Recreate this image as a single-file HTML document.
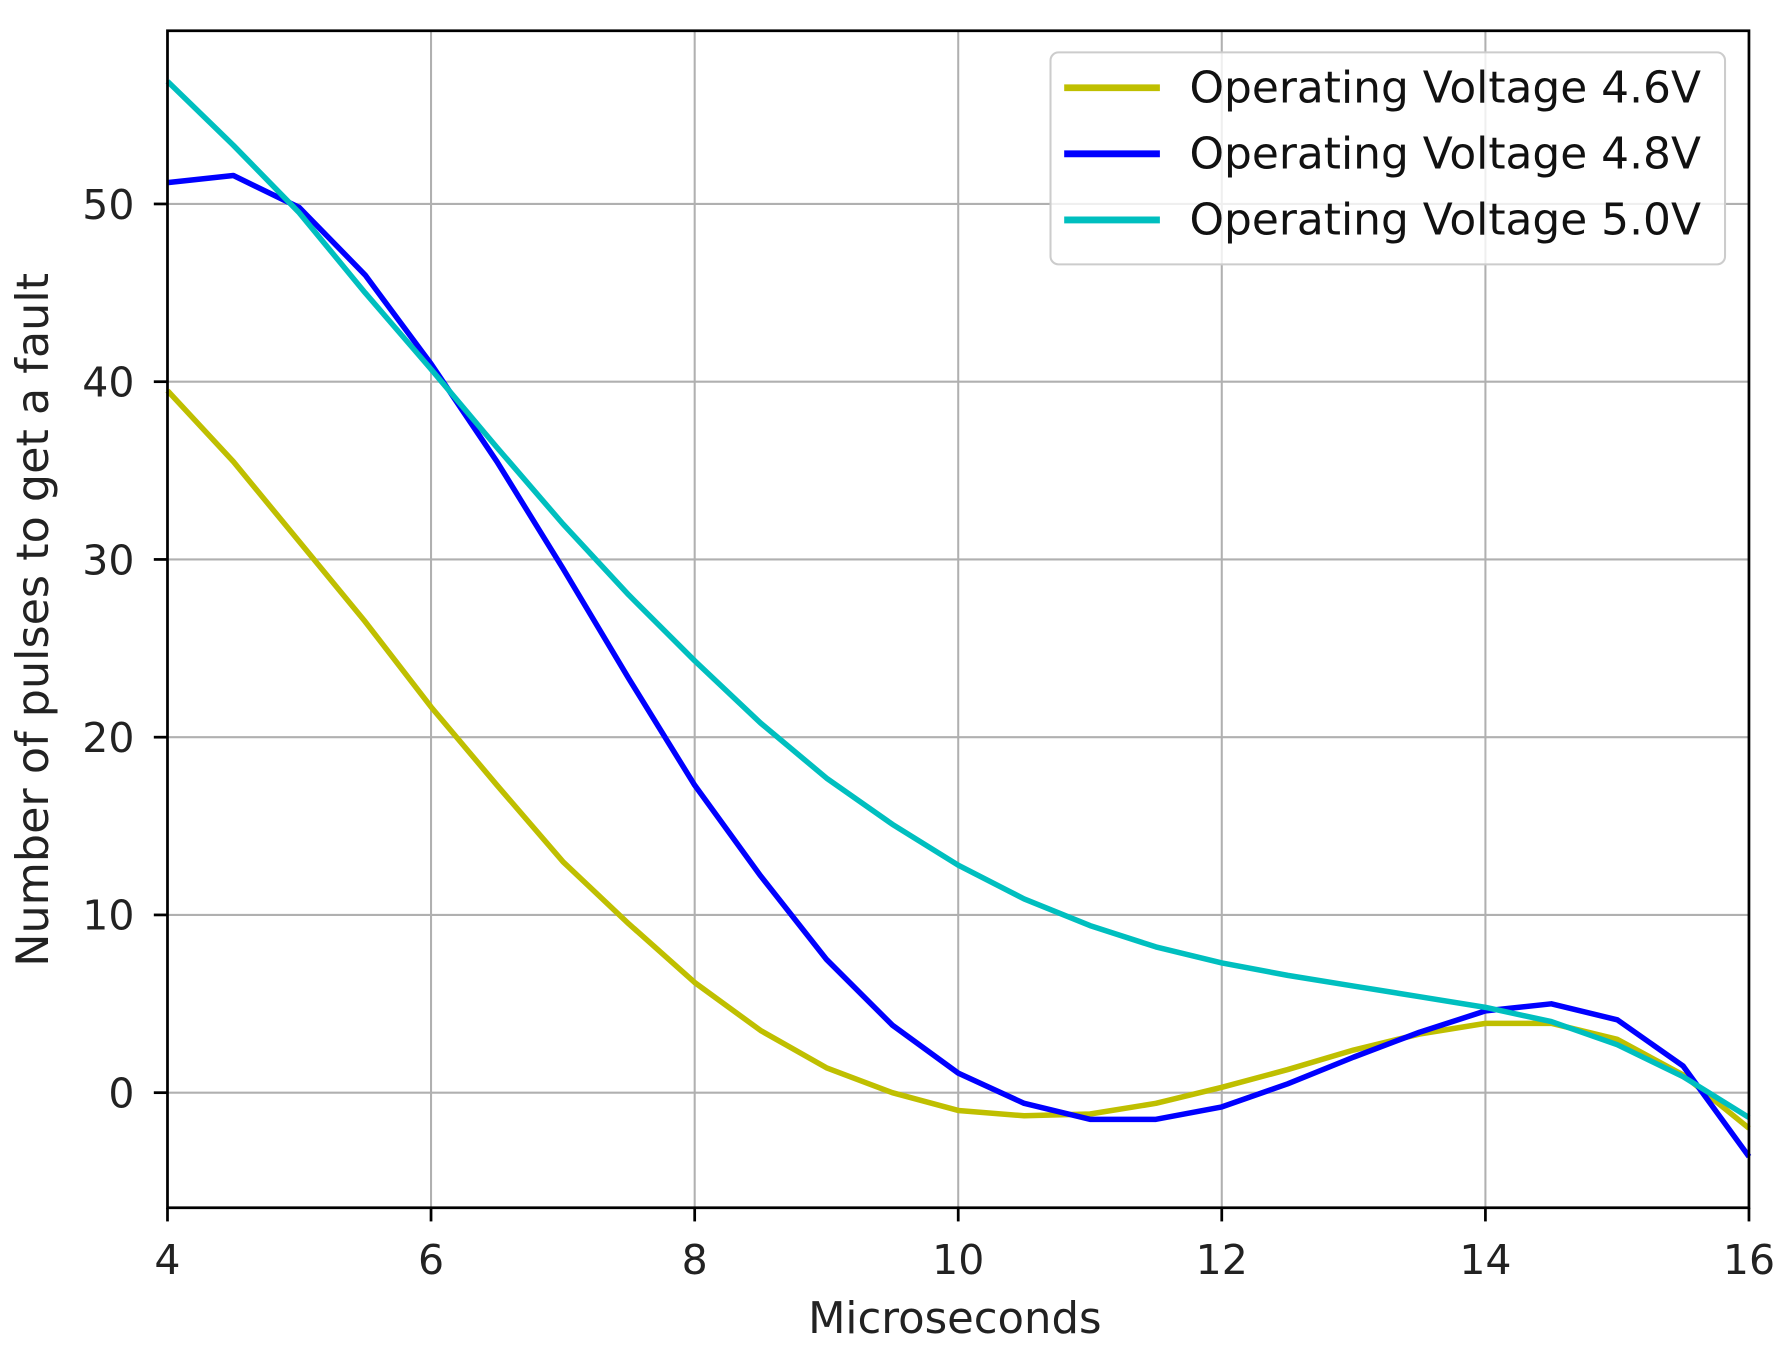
<!DOCTYPE html>
<html><head><meta charset="utf-8"><style>html,body{margin:0;padding:0;background:#fff}svg{display:block}</style></head>
<body>
<svg width="1782" height="1352" viewBox="0 0 1564 1186.6" preserveAspectRatio="none" xmlns="http://www.w3.org/2000/svg" font-family="DejaVu Sans, Liberation Sans, sans-serif">
<rect width="1564" height="1187" fill="#fff"/>
<g stroke="#b0b0b0" stroke-width="1.8">
<line x1="378.3" y1="27" x2="378.3" y2="1060"/><line x1="609.7" y1="27" x2="609.7" y2="1060"/><line x1="841" y1="27" x2="841" y2="1060"/><line x1="1072.3" y1="27" x2="1072.3" y2="1060"/><line x1="1303.7" y1="27" x2="1303.7" y2="1060"/>
<line x1="147" y1="959" x2="1535" y2="959"/><line x1="147" y1="803" x2="1535" y2="803"/><line x1="147" y1="647" x2="1535" y2="647"/><line x1="147" y1="491" x2="1535" y2="491"/><line x1="147" y1="335" x2="1535" y2="335"/><line x1="147" y1="179" x2="1535" y2="179"/>
</g>
<g transform="translate(147,959) scale(115.67,-15.6)" fill="none" stroke-linejoin="round">
<polyline vector-effect="non-scaling-stroke" stroke="#bfbf00" stroke-width="5.5" points="0,39.5 0.5,35.5 1,31 1.5,26.5 2,21.7 2.5,17.3 3,13 3.5,9.5 4,6.2 4.5,3.5 5,1.4 5.5,0 6,-1 6.5,-1.3 7,-1.2 7.5,-0.6 8,0.3 8.5,1.3 9,2.4 9.5,3.3 10,3.9 10.5,3.9 11,3.0 11.5,1.0 12,-2"/>
<polyline vector-effect="non-scaling-stroke" stroke="#0000ff" stroke-width="5.5" points="0,51.2 0.5,51.6 1,49.8 1.5,46 2,41 2.5,35.5 3,29.5 3.5,23.3 4,17.3 4.5,12.2 5,7.5 5.5,3.8 6,1.1 6.5,-0.6 7,-1.5 7.5,-1.5 8,-0.8 8.5,0.5 9,2 9.5,3.4 10,4.6 10.5,5 11,4.1 11.5,1.5 12,-3.6"/>
<polyline vector-effect="non-scaling-stroke" stroke="#00bfbf" stroke-width="5.5" points="0,56.9 0.5,53.3 1,49.5 1.5,45 2,40.7 2.5,36.3 3,32 3.5,28 4,24.3 4.5,20.8 5,17.7 5.5,15.1 6,12.8 6.5,10.9 7,9.4 7.5,8.2 8,7.3 8.5,6.6 9,6 9.5,5.4 10,4.8 10.5,4 11,2.7 11.5,0.9 12,-1.4"/>
</g>
<rect x="147" y="27" width="1388" height="1033" fill="none" stroke="#000" stroke-width="2.4"/>
<g stroke="#000" stroke-width="2.4">
<line x1="147" y1="1060" x2="147" y2="1072"/><line x1="378.3" y1="1060" x2="378.3" y2="1072"/><line x1="609.7" y1="1060" x2="609.7" y2="1072"/><line x1="841" y1="1060" x2="841" y2="1072"/><line x1="1072.3" y1="1060" x2="1072.3" y2="1072"/><line x1="1303.7" y1="1060" x2="1303.7" y2="1072"/><line x1="1535" y1="1060" x2="1535" y2="1072"/>
<line x1="135" y1="959" x2="147" y2="959"/><line x1="135" y1="803" x2="147" y2="803"/><line x1="135" y1="647" x2="147" y2="647"/><line x1="135" y1="491" x2="147" y2="491"/><line x1="135" y1="335" x2="147" y2="335"/><line x1="135" y1="179" x2="147" y2="179"/>
</g>
<g font-size="36" fill="#222" text-anchor="middle">
<text x="147" y="1118">4</text><text x="378.3" y="1118">6</text><text x="609.7" y="1118">8</text><text x="841" y="1118">10</text><text x="1072.3" y="1118">12</text><text x="1303.7" y="1118">14</text><text x="1535" y="1118">16</text>
</g>
<g font-size="36" fill="#222" text-anchor="end">
<text x="118" y="972">0</text><text x="118" y="816">10</text><text x="118" y="660">20</text><text x="118" y="504">30</text><text x="118" y="348">40</text><text x="118" y="192">50</text>
</g>
<text x="838" y="1170" font-size="38" fill="#222" text-anchor="middle">Microseconds</text>
<text transform="translate(42,544) rotate(-90)" font-size="39" fill="#222" text-anchor="middle">Number of pulses to get a fault</text>
<rect x="922" y="46" width="592" height="186" rx="7" fill="#fff" fill-opacity="0.8" stroke="#ccc" stroke-width="1.8"/>
<line x1="934" y1="77" x2="1018" y2="77" stroke="#bfbf00" stroke-width="6"/>
<line x1="934" y1="135" x2="1018" y2="135" stroke="#0000ff" stroke-width="6"/>
<line x1="934" y1="193" x2="1018" y2="193" stroke="#00bfbf" stroke-width="6"/>
<g font-size="38.5" fill="#111">
<text x="1044" y="90">Operating Voltage 4.6V</text>
<text x="1044" y="148">Operating Voltage 4.8V</text>
<text x="1044" y="206">Operating Voltage 5.0V</text>
</g>
</svg>
</body></html>
